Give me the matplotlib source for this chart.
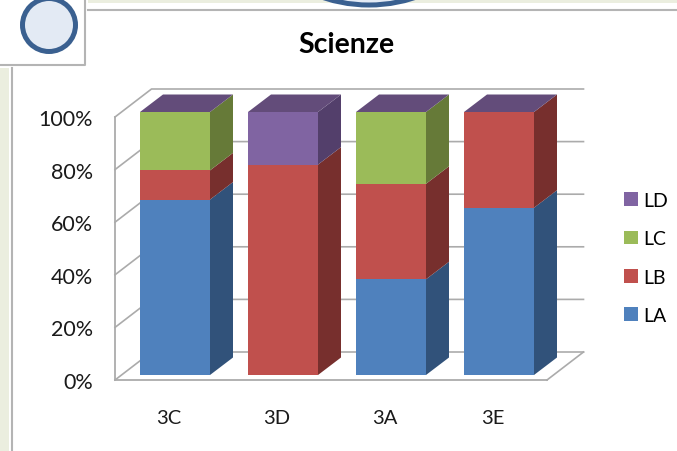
import numpy as np
import matplotlib
matplotlib.use("Agg")
import matplotlib.pyplot as plt
from matplotlib.patches import Polygon, Rectangle, Circle

plt.rcParams['font.family'] = ['Lato', 'DejaVu Sans']

classes = ["3C", "3D", "3A", "3E"]
LA = [66.7, 0, 36.4, 63.6]
LB = [11.1, 80, 36.3, 36.4]
LC = [22.2, 0, 27.3, 0]
LD = [0, 20, 0, 0]
series_names = ["LA", "LB", "LC", "LD"]
yticks = [0, 20, 40, 60, 80, 100]

front = ["#4F81BD", "#C0504D", "#9BBB59", "#8064A2"]
side = ["#31527A", "#772F2D", "#667A38", "#533F6B"]
top_col = "#634C7A"
grid_col = "#ABABAB"

W, H = 677, 452
fig = plt.figure(figsize=[W / 100, H / 100], dpi=100)

# page furniture behind the chart, in pixels
bg = fig.add_axes([0, 0, 1, 1], zorder=0)
bg.set(xlim=(0, W), ylim=(H, 0))
bg.axis('off')
bg.add_patch(Rectangle((0, 69), 9, H - 69, color="#EBEEDF", lw=0))
bg.plot([12, 12], [69, H], color="#B4B4B4", lw=1.5)
bg.add_patch(Rectangle((88, 0), W - 88, 4, color="#EBEEDF", lw=0))
bg.plot([88, W], [10.5, 10.5], color="#B4B4B4", lw=1.5)
bg.plot([0, 85, 85], [65.5, 65.5, 0], color="#B4B4B4", lw=1.5)
bg.add_patch(Circle((49, 26), 26.5, fc="#E3EAF4", ec="#3A6090", lw=3.6))
bg.add_patch(Circle((369, -140), 146, fc="#E3EAF4", ec="#3A6090", lw=3.6))

# main axes: left edge is the front of the side wall, bottom the front of the floor
ax = fig.add_axes([115 / W, 1 - 381 / H, 432 / W, 263 / H], zorder=1)
ax.patch.set_alpha(0)
ax.set_xlim(-0.5, 3.5)
ax.set_ylim(0, 100)

# offsets in data units
wall_dx, wall_dy = 36.5 / 108, 28 / 2.63
bar_dx, bar_dy = 6 / 108, 5 / 2.63
depth_x, depth_y = 23 / 108, 17.5 / 2.63
bar_w = 70 / 108

for t in yticks:
    ax.plot([-0.5, -0.5 + wall_dx, 3.5 + wall_dx], [t, t + wall_dy, t + wall_dy],
            color=grid_col, lw=1.2, clip_on=False, zorder=1)
ax.plot([3.5, 3.5 + wall_dx], [0, wall_dy], color=grid_col, lw=1.2, clip_on=False, zorder=1)

x = np.arange(len(classes)) + bar_dx
data = [np.array(LA), np.array(LB), np.array(LC), np.array(LD)]
bottom = np.zeros(len(classes))
for vals, name, fc, sc in zip(data, series_names, front, side):
    ax.bar(x, vals, bar_w, bottom=bottom + bar_dy, color=fc, label=name, clip_on=False, zorder=3)
    for xi, b, v in zip(x, bottom, vals):
        if v == 0:
            continue
        xr = xi + bar_w / 2
        lo, hi = b + bar_dy, b + v + bar_dy
        ax.add_patch(Polygon([(xr, lo), (xr + depth_x, lo + depth_y),
                              (xr + depth_x, hi + depth_y), (xr, hi)],
                             fc=sc, ec="none", clip_on=False, zorder=2.5))
    bottom = bottom + vals

for xi, tot in zip(x, bottom):
    l, r = xi - bar_w / 2, xi + bar_w / 2
    hi = tot + bar_dy
    ax.add_patch(Polygon([(l, hi), (r, hi), (r + depth_x, hi + depth_y), (l + depth_x, hi + depth_y)],
                         fc=top_col, ec="none", clip_on=False, zorder=2.5))

for s in ['top', 'right']:
    ax.spines[s].set_visible(False)
for s in ['left', 'bottom']:
    ax.spines[s].set_color(grid_col)
    ax.spines[s].set_linewidth(1.3)

ax.set_xticks(np.arange(len(classes)), classes)
ax.set_yticks(yticks, [f"{t}%" for t in yticks])
ax.tick_params(axis='x', length=0, pad=21, labelsize=14.5, labelcolor="#1a1a1a")
ax.tick_params(axis='y', length=0, pad=16, labelsize=15.5, labelcolor="#1a1a1a")

fig.text(346 / W, 1 - 45 / H, "Scienze", ha='center', va='center', fontsize=20.5, fontweight='bold', color="black")

handles, labels = ax.get_legend_handles_labels()
fig.legend(handles[::-1], labels[::-1], loc='center left', bbox_to_anchor=(624 / W, 1 - 259 / H),
           frameon=False, fontsize=14, handlelength=0.7, handleheight=0.7, handletextpad=0.3,
           labelspacing=1.1, borderpad=0, borderaxespad=0)

plt.savefig("out.png", dpi=100)
